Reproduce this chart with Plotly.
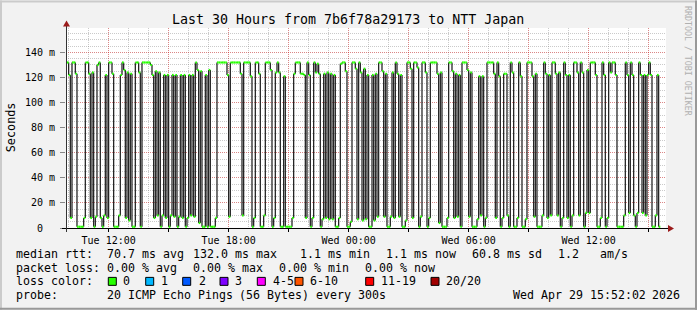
import re
import plotly.graph_objects as go
import pandas as pd

# ---------------- data (median RTT in ms, one value per 5-minute step) ----------------
median_part1 = [132,122,8,132,132,123,1,1,1,1,8,132,132,123,8,124,1,9,130,132,8,1,10,122,8,132,132,123,1,1,1,10,122,132,126,8,124,6,123,1,1,132,132,124,1,132,132,132,132,132,130,122,8,125,10,124,1,10,122,8,122,1,10,122,9,122,1,9,122,8,122]
median_part2 = [1,8,122,10,122,9,132,126,4,125,1,1,122,1,126,1,1,1,8,132,132,132,132,132,132,122,9,132,132,132,132,132,132,123,10,132,132,132,132,121,1,8,132,132,123,1,1,10,132,132,132,126,1,8,124,132,124,1,1,121,1,1,1,1,8,123,132,132,132,123,123,122]
median_part3 = [8,132,122,1,8,132,124,131,123,1,7,123,8,124,7,123,7,122,1,1,8,131,132,132,125,1,1,5,132,132,127,7,132,124,6,127,7,122,1,1,122,6,123,9,132,132,125,9,123,1,1,9,124,8,132,123,9,122,1,1,6,132,132,127,8,132,132,128,1,9,132,132]
median_part4 = [124,1,8,132,132,132,132,123,4,124,1,1,1,8,132,132,125,8,123,9,122,1,132,132,132,126,9,124,1,1,1,7,121,10,121,1,8,132,132,132,132,123,8,132,121,1,8,123,123,10,1,132,124,1,1,8,132,121,1,1,7,132,132,132,121,9,123,1,1,1,10,132]
median_part5 = [123,8,122,10,132,132,123,10,124,1,8,132,122,8,122,1,10,132,132,124,10,132,124,1,12,126,12,132,132,132,122,1,1,8,132,122,1,8,132,124,132,132,122,1,1,1,1,10,132,122,12,132,122,10,1,12,132,122,12,122,10,122,132,122,1,1,10,122,1]
median_ms = median_part1 + median_part2 + median_part3 + median_part4 + median_part5

first_step = "2026-04-28 09:55:00"
step_minutes = 5
range_start = "2026-04-28 09:52:02"
range_end = "2026-04-29 15:52:02"

y_tick_values = [0, 20, 40, 60, 80, 100, 120, 140]
y_tick_labels = ["0\u00a0\u00a0", "20 m", "40 m", "60 m", "80 m", "100 m", "120 m", "140 m"]
x_tick_values = ["2026-04-28 12:00", "2026-04-28 15:00", "2026-04-28 18:00", "2026-04-28 21:00",
                 "2026-04-29 00:00", "2026-04-29 03:00", "2026-04-29 06:00", "2026-04-29 09:00",
                 "2026-04-29 12:00", "2026-04-29 15:00"]
x_tick_labels = ["Tue 12:00", "", "Tue 18:00", "", "Wed 00:00", "", "Wed 06:00", "", "Wed 12:00", ""]

title_text = "Last 30 Hours from 7b6f78a29173 to NTT Japan"
row_rtt = [("median rtt:", 16), ("70.7 ms avg", 107.3), ("132.0 ms max", 193.3), ("1.1 ms min", 300),
           ("1.1 ms now", 386), ("60.8 ms sd", 472.3), ("1.2", 558.3), ("am/s", 600)]
row_loss = [("packet loss:", 16), ("0.00 % avg", 107.3), ("0.00 % max", 193.3), ("0.00 % min", 279.3),
            ("0.00 % now", 365)]
loss_labels = ["0", "1", "2", "3", "4-5", "6-10", "11-19", "20/20"]
loss_colors = ["#26ff00", "#00b8ff", "#0059ff", "#7e00ff", "#ff00ff", "#ff5500", "#ff0000", "#a10000"]
loss_box_x = [108.3, 145.7, 182.7, 220, 257.3, 295, 365.7, 431]
loss_text_x = [123.3, 161, 199, 235, 272.7, 310, 380.7, 446]
row_probe = [("probe:", 16), ("20 ICMP Echo Pings (56 Bytes) every 300s", 107.3), ("Wed Apr 29 15:52:02 2026", 513.3)]

# ---------------- layout geometry ----------------
W, H = 697, 310
L, R, T, B = 66, 31, 27.5, 82
PW = W - L - R
PH = H - T - B
MONO = "DejaVu Sans Mono"
LEG = 11.6
PITCH = 6.95
MAJOR = "rgba(255,0,0,0.33)"
MINOR = "rgba(128,128,128,0.42)"
DOTS = "1px,1px"


def xp(px):
    return (px - L) / PW


def yp(py):
    return (H - B - py) / PH


step = pd.Timedelta(minutes=step_minutes)
t0 = pd.Timestamp(first_step)
times = [t0 + i * step for i in range(len(median_ms))]

# black transitions (vertical) and green medians (horizontal per step)
vx, vy = [], []
for i in range(1, len(median_ms)):
    vx += [times[i], times[i], None]
    vy += [median_ms[i - 1], median_ms[i], None]
gx, gy = [], []
for i, m in enumerate(median_ms):
    gx += [times[i], times[i] + step, None]
    gy += [m, m, None]

fig = go.Figure()
fig.add_trace(go.Scatter(x=vx, y=vy, mode="lines", line=dict(color="#1e1e1e", width=1.25),
                         hoverinfo="skip", showlegend=False))
fig.add_trace(go.Scatter(x=gx, y=gy, mode="lines", line=dict(color=loss_colors[0], width=2.2),
                         hoverinfo="skip", showlegend=False))

fig.update_layout(
    width=W, height=H,
    margin=dict(l=L, r=R, t=T, b=B, pad=0),
    paper_bgcolor="#f2f2f2", plot_bgcolor="#ffffff",
    showlegend=False,
    xaxis=dict(type="date", range=[range_start, range_end], tickmode="array",
               tickvals=x_tick_values, ticktext=x_tick_labels,
               showgrid=True, gridcolor=MAJOR, griddash=DOTS, gridwidth=1,
               ticks="outside", ticklen=3, tickcolor="#000",
               tickfont=dict(family=MONO, size=10, color="#000"),
               minor=dict(dtick=3600000, tick0="2026-04-28 00:00", showgrid=True,
                          gridcolor=MINOR, griddash=DOTS, gridwidth=1),
               zeroline=False, showline=False, fixedrange=True),
    yaxis=dict(range=[0, 159.5], tickmode="array", tickvals=y_tick_values, ticktext=y_tick_labels,
               showgrid=True, gridcolor=MAJOR, griddash=DOTS, gridwidth=1,
               ticks="outside", ticklen=5, tickcolor="#888", ticklabelstandoff=3,
               tickfont=dict(family=MONO, size=10, color="#000"),
               minor=dict(dtick=5, tick0=0, showgrid=True,
                          gridcolor=MINOR, griddash=DOTS, gridwidth=1),
               zeroline=False, showline=False, fixedrange=True),
)

shapes = []
# 3D frame
shapes.append(dict(type="line", xref="paper", yref="paper", x0=xp(0), x1=xp(W), y0=yp(1), y1=yp(1),
                   line=dict(color="#cbcbcb", width=2)))
shapes.append(dict(type="line", xref="paper", yref="paper", x0=xp(1), x1=xp(1), y0=yp(0), y1=yp(H),
                   line=dict(color="#cbcbcb", width=2)))
shapes.append(dict(type="line", xref="paper", yref="paper", x0=xp(0), x1=xp(W), y0=yp(H - 1), y1=yp(H - 1),
                   line=dict(color="#999999", width=2)))
shapes.append(dict(type="line", xref="paper", yref="paper", x0=xp(W - 1), x1=xp(W - 1), y0=yp(0), y1=yp(H),
                   line=dict(color="#999999", width=2)))
# axes lines
shapes.append(dict(type="line", xref="paper", yref="paper", x0=xp(62), x1=xp(669), y0=yp(228.5), y1=yp(228.5),
                   line=dict(color="#000", width=1)))
shapes.append(dict(type="line", xref="paper", yref="paper", x0=xp(66.5), x1=xp(66.5), y0=yp(232), y1=yp(24),
                   line=dict(color="#333", width=1)))
ARROW = "#9b1b1b"
shapes.append(dict(type="path", xref="paper", yref="paper",
                   path=f"M {xp(668)},{yp(225)} L {xp(674)},{yp(228.5)} L {xp(668)},{yp(232)} Z",
                   fillcolor=ARROW, line=dict(color=ARROW, width=0)))
shapes.append(dict(type="path", xref="paper", yref="paper",
                   path=f"M {xp(63)},{yp(26)} L {xp(66.5)},{yp(20)} L {xp(70)},{yp(26)} Z",
                   fillcolor=ARROW, line=dict(color=ARROW, width=0)))
# loss color boxes
for bx, col in zip(loss_box_x, loss_colors):
    shapes.append(dict(type="rect", xref="paper", yref="paper", x0=xp(bx), x1=xp(bx + 8),
                       y0=yp(285.5), y1=yp(277.5), fillcolor=col, line=dict(color="#000", width=1)))
fig.update_layout(shapes=shapes)

ann = []


def txt(s, px, py, size=LEG, anchor="left", color="#000", angle=0):
    ann.append(dict(text=s, xref="paper", yref="paper", x=xp(px), y=yp(py), xanchor=anchor,
                    yanchor="middle", showarrow=False, textangle=angle, borderpad=0,
                    font=dict(family=MONO, size=size, color=color)))


def txt_words(s, px, py):
    # place each word at the monospace pitch of the original rendering
    for m in re.finditer(r"\S+", s):
        txt(m.group(0), px + m.start() * PITCH, py)


txt(title_text, 347.8, 19, size=13.3, anchor="center")
txt("Seconds", 11, 127, size=11.8, anchor="center", angle=-90)
txt("RRDTOOL / TOBI OETIKER", 687.5, 60, size=8.3, anchor="center", color="#b0b0b0", angle=90)
for s, px in row_rtt:
    txt_words(s, px - 1, 254)
for s, px in row_loss:
    txt_words(s, px - 1, 268)
txt_words("loss color:", 15, 281.5)
for s, px in zip(loss_labels, loss_text_x):
    txt(s, px - 1, 281.5)
for s, px in row_probe:
    txt_words(s, px - 1, 295.5)
fig.update_layout(annotations=ann)

fig.write_html("out.html", config={"displayModeBar": False})
